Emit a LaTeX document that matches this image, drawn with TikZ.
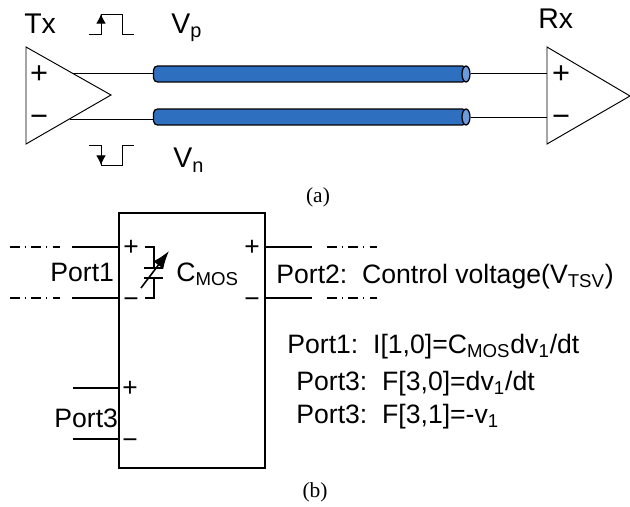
\documentclass[tikz,border=0pt]{standalone}
\usepackage{fontspec}
\setmainfont{Liberation Sans}
\newfontfamily\capfont{Liberation Serif}
\usetikzlibrary{arrows.meta, shapes.geometric}
\definecolor{cableblue}{HTML}{2F6FBF}
\definecolor{cableend}{HTML}{6C9BDD}
\tikzset{
  lbl/.style={anchor=base west, inner sep=0pt, font=\fontsize{15.15}{17}\selectfont},
  biglbl/.style={anchor=base west, inner sep=0pt, font=\fontsize{16.2}{18}\selectfont},
  sign/.style={inner sep=0pt, font=\fontsize{15}{17}\selectfont},
  bigsign/.style={inner sep=0pt, font=\fontsize{17.5}{19}\selectfont},
  caption/.style={inner sep=0pt, font=\fontsize{12.2}{14}\selectfont\capfont},
  cable/.style={draw, line width=0.7pt, fill=cableblue, minimum width=6.26cm, minimum height=0.32cm, inner sep=0pt, rounded corners=0.08cm},
  cableface/.style={draw, line width=0.7pt, fill=cableend, ellipse, minimum width=0.16cm, minimum height=0.32cm, inner sep=0pt},
  wire/.style={line width=0.55pt},
  lead/.style={line width=0.9pt},
  farlead/.style={line width=0.6pt, dash pattern=on 5.7pt off 2.6pt on 0.8pt off 3pt},
}
\newcommand{\subtxt}[1]{\textsubscript{#1}}
\begin{document}
\begin{tikzpicture}[x=0.02cm, y=-0.02cm]
  \useasboundingbox (0,0) rectangle (630,507);

  % Cables
  \node[cable] (cableP) at (310,74) {};
  \node[cable] (cableN) at (310,117) {};
  \node[cableface] (endP) at (466,74) {};
  \node[cableface] (endN) at (466,117) {};

  % Tx amplifier
  \coordinate (txTop) at (26,47);
  \coordinate (txBot) at (26,144);
  \coordinate (txTip) at (111,95);
  \coordinate (txP) at (73,73);
  \coordinate (txN) at (70,119);
  \draw[wire] (txTop) -- (txTip) -- (txBot) -- cycle;
  \draw[wire] (txP) -- (txP -| cableP.west);
  \draw[wire] (txN) -- (txN -| cableN.west);
  \node[biglbl] (txLabel) at (24,33) {Tx};
  \node[bigsign] (txPlus) at (39,75) {+};
  \node[bigsign] (txMinus) at (39,121) {−};

  % Rx amplifier
  \coordinate (rxTop) at (547,47);
  \coordinate (rxBot) at (547,144);
  \coordinate (rxTip) at (630,96);
  \coordinate (rxP) at (547,73);
  \coordinate (rxN) at (547,117);
  \draw[wire] (rxTop) -- (rxTip) -- (rxBot) -- cycle;
  \draw[wire] (endP.east |- rxP) -- (rxP);
  \draw[wire] (endN.east |- rxN) -- (rxN);
  \node[biglbl] (rxLabel) at (538,29) {Rx};
  \node[bigsign] (rxPlus) at (561,75) {+};
  \node[bigsign] (rxMinus) at (561,121) {−};

  % Pulses
  \draw[wire] (89,34) -- (101,34) -- (101,14) -- (122,14) -- (122,34) -- (134,34);
  \draw[wire, -{Latex[length=5.5pt,width=5.5pt]}] (101,34) -- (101,14);
  \draw[wire] (89,145) -- (101,145) -- (101,165) -- (122,165) -- (122,145) -- (134,145);
  \draw[wire, -{Latex[length=5.5pt,width=5.5pt]}] (101,145) -- (101,165);
  \node[biglbl] (vpLabel) at (171,33) {V\subtxt{p}};
  \node[biglbl] (vnLabel) at (173,168) {V\subtxt{n}};

  % Caption (a)
  \node[caption] (capA) at (318,197) {(a)};

  % Box
  \node[draw, lead, minimum width=2.92cm, minimum height=5.1cm, inner sep=0pt] (box) at (192,340.5) {};

  % Port 1
  \coordinate (p1Top) at (72,247);
  \coordinate (p1Bot) at (72,298);
  \draw[lead] (p1Top) -- (p1Top -| box.west);
  \draw[lead] (p1Bot) -- (p1Bot -| box.west);
  \draw[farlead] (10,247) -- (60,247);
  \draw[farlead] (10,298) -- (60,298);
  \node[lbl] (port1) at (50,281) {Port1};
  \node[sign] (p1Plus) at (131,248) {+};
  \node[sign] (p1Minus) at (131,303) {−};

  % Variable capacitor
  \draw[lead] (145,247) -- (154,247) -- (154,268);
  \draw[lead] (145,298) -- (154,298) -- (154,278);
  \draw[lead] (144,268) -- (163,268);
  \draw[lead] (144,278) -- (163,278);
  \draw[lead, -{Latex[length=10pt,width=7pt]}] (141,288) -- (169,251);
  \node[lbl] (cmos) at (176,281) {C\subtxt{MOS}};

  % Port 2
  \coordinate (p2Top) at (312,247);
  \coordinate (p2Bot) at (312,298);
  \draw[lead] (p2Top -| box.east) -- (p2Top);
  \draw[lead] (p2Bot -| box.east) -- (p2Bot);
  \draw[farlead] (327,247) -- (377,247);
  \draw[farlead] (327,298) -- (377,298);
  \node[sign] (p2Plus) at (252,248) {+};
  \node[sign] (p2Minus) at (252,303) {−};
  \node[lbl] (port2) at (276,283) {Port2:\ \ Control voltage(V\subtxt{TSV})};

  % Port 3
  \coordinate (p3Top) at (73,388);
  \coordinate (p3Bot) at (73,439);
  \draw[lead] (p3Top) -- (p3Top -| box.west);
  \draw[lead] (p3Bot) -- (p3Bot -| box.west);
  \node[sign] (p3Plus) at (130,389) {+};
  \node[sign] (p3Minus) at (130,444) {−};
  \node[lbl] (port3) at (54,427) {Port3};

  % Equations
  \node[lbl] (eqA) at (287,353) {Port1:\ \ I[1,0]=C\subtxt{MOS}dv\subtxt{1}/dt};
  \node[lbl] (eqB) at (296,390) {Port3:\ \ F[3,0]=dv\subtxt{1}/dt};
  \node[lbl] (eqC) at (296,423) {Port3:\ \ F[3,1]=-v\subtxt{1}};

  % Caption (b)
  \node[caption] (capB) at (315,492) {(b)};
\end{tikzpicture}
\end{document}
